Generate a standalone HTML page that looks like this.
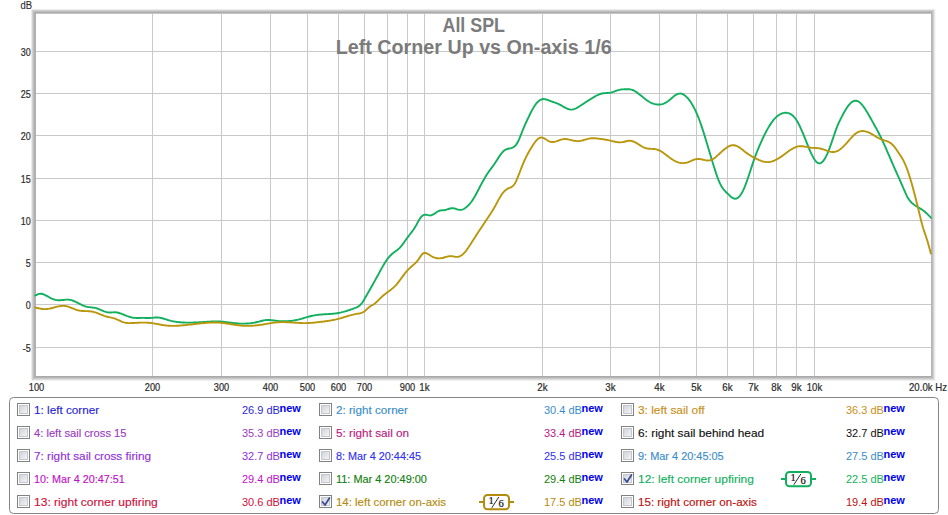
<!DOCTYPE html>
<html><head><meta charset="utf-8"><style>
html,body{margin:0;padding:0;background:#fff;width:948px;height:515px;overflow:hidden;position:relative;font-family:"Liberation Sans",sans-serif}
</style></head><body>
<svg width="948" height="515" viewBox="0 0 948 515" style="position:absolute;left:0;top:0">
<defs><linearGradient id="cbg" x1="0" y1="0" x2="1" y2="1"><stop offset="0" stop-color="#cdd1d8"/><stop offset="1" stop-color="#f6f6f6"/></linearGradient></defs>
<g shape-rendering="crispEdges"><rect x="31" y="9" width="905" height="372" fill="none"/><rect x="31" y="10" width="1" height="370" fill="#eaeaea"/><rect x="935" y="10" width="1" height="370" fill="#f8f8f8"/><rect x="32" y="9" width="903" height="1" fill="#ebebeb"/><rect x="32" y="380" width="903" height="1" fill="#f0f0f0"/><rect x="32" y="10" width="903" height="370" fill="none"/><rect x="32" y="10" width="1" height="370" fill="#d2d2d2"/><rect x="934" y="10" width="1" height="370" fill="#e8e8e8"/><rect x="33" y="10" width="901" height="1" fill="#d0d0d0"/><rect x="33" y="379" width="901" height="1" fill="#dcdcdc"/><rect x="33" y="11" width="901" height="368" fill="none"/><rect x="33" y="11" width="1" height="368" fill="#bebebe"/><rect x="933" y="11" width="1" height="368" fill="#d2d2d2"/><rect x="34" y="11" width="899" height="1" fill="#bcbcbc"/><rect x="34" y="378" width="899" height="1" fill="#c8c8c8"/><rect x="34" y="12" width="899" height="366" fill="none"/><rect x="34" y="12" width="1" height="366" fill="#b0b0b0"/><rect x="932" y="12" width="1" height="366" fill="#bcbcbc"/><rect x="35" y="12" width="897" height="1" fill="#adadad"/><rect x="35" y="377" width="897" height="1" fill="#b5b5b5"/><rect x="35" y="13" width="897" height="364" fill="none"/><rect x="35" y="13" width="1" height="364" fill="#b0b0b0"/><rect x="931" y="13" width="1" height="364" fill="#b5b5b5"/><rect x="36" y="13" width="895" height="1" fill="#c4c4c4"/><rect x="36" y="376" width="895" height="1" fill="#aaaaaa"/></g>
<g fill="#c9c9c9" shape-rendering="crispEdges"><rect x="152" y="14" width="1" height="362"/><rect x="221" y="14" width="1" height="362"/><rect x="270" y="14" width="1" height="362"/><rect x="307" y="14" width="1" height="362"/><rect x="338" y="14" width="1" height="362"/><rect x="364" y="14" width="1" height="362"/><rect x="387" y="14" width="1" height="362"/><rect x="407" y="14" width="1" height="362"/><rect x="424" y="14" width="1" height="362"/><rect x="542" y="14" width="1" height="362"/><rect x="610" y="14" width="1" height="362"/><rect x="659" y="14" width="1" height="362"/><rect x="696" y="14" width="1" height="362"/><rect x="727" y="14" width="1" height="362"/><rect x="753" y="14" width="1" height="362"/><rect x="776" y="14" width="1" height="362"/><rect x="796" y="14" width="1" height="362"/><rect x="814" y="14" width="1" height="362"/><rect x="36" y="51" width="895" height="1"/><rect x="36" y="93" width="895" height="1"/><rect x="36" y="135" width="895" height="1"/><rect x="36" y="178" width="895" height="1"/><rect x="36" y="220" width="895" height="1"/><rect x="36" y="262" width="895" height="1"/><rect x="36" y="304" width="895" height="1"/><rect x="36" y="347" width="895" height="1"/></g>
<g font-family="Liberation Sans" font-weight="bold" font-size="20" fill="#7b7b7b">
<text x="442.5" y="32.4" textLength="62.5" lengthAdjust="spacingAndGlyphs">All SPL</text>
<text x="335.8" y="54" textLength="275.8" lengthAdjust="spacingAndGlyphs">Left Corner Up vs On-axis 1/6</text>
</g>
<path d="M35.2,295.50 L36.2,295.01 L37.2,294.56 L38.2,294.17 L39.2,293.90 L40.2,293.77 L41.2,293.79 L42.2,293.95 L43.2,294.23 L44.2,294.60 L45.2,295.05 L46.2,295.56 L47.2,296.11 L48.2,296.68 L49.2,297.25 L50.2,297.80 L51.2,298.31 L52.2,298.75 L53.2,299.14 L54.2,299.47 L55.2,299.73 L56.2,299.94 L57.2,300.09 L58.2,300.19 L59.2,300.23 L60.2,300.22 L61.2,300.17 L62.2,300.07 L63.2,299.95 L64.2,299.82 L65.2,299.71 L66.2,299.63 L67.2,299.60 L68.2,299.63 L69.2,299.73 L70.2,299.89 L71.2,300.12 L72.2,300.41 L73.2,300.75 L74.2,301.13 L75.2,301.56 L76.2,302.03 L77.2,302.53 L78.2,303.04 L79.2,303.56 L80.2,304.08 L81.2,304.59 L82.2,305.07 L83.2,305.53 L84.2,305.94 L85.2,306.30 L86.2,306.60 L87.2,306.83 L88.2,307.01 L89.2,307.15 L90.2,307.26 L91.2,307.36 L92.2,307.46 L93.2,307.58 L94.2,307.73 L95.2,307.93 L96.2,308.19 L97.2,308.51 L98.2,308.87 L99.2,309.27 L100.2,309.69 L101.2,310.12 L102.2,310.55 L103.2,310.97 L104.2,311.35 L105.2,311.70 L106.2,312.00 L107.2,312.24 L108.2,312.40 L109.2,312.48 L110.2,312.49 L111.2,312.46 L112.2,312.41 L113.2,312.35 L114.2,312.31 L115.2,312.32 L116.2,312.38 L117.2,312.52 L118.2,312.74 L119.2,313.02 L120.2,313.35 L121.2,313.71 L122.2,314.10 L123.2,314.50 L124.2,314.90 L125.2,315.29 L126.2,315.68 L127.2,316.06 L128.2,316.41 L129.2,316.74 L130.2,317.04 L131.2,317.31 L132.2,317.53 L133.2,317.70 L134.2,317.82 L135.2,317.91 L136.2,317.96 L137.2,317.98 L138.2,317.98 L139.2,317.97 L140.2,317.95 L141.2,317.92 L142.2,317.90 L143.2,317.90 L144.2,317.90 L145.2,317.93 L146.2,317.96 L147.2,318.00 L148.2,318.02 L149.2,318.02 L150.2,317.99 L151.2,317.92 L152.2,317.83 L153.2,317.73 L154.2,317.63 L155.2,317.55 L156.2,317.49 L157.2,317.49 L158.2,317.54 L159.2,317.65 L160.2,317.81 L161.2,318.01 L162.2,318.26 L163.2,318.53 L164.2,318.82 L165.2,319.13 L166.2,319.45 L167.2,319.76 L168.2,320.07 L169.2,320.36 L170.2,320.63 L171.2,320.88 L172.2,321.10 L173.2,321.31 L174.2,321.51 L175.2,321.68 L176.2,321.84 L177.2,321.97 L178.2,322.10 L179.2,322.21 L180.2,322.30 L181.2,322.39 L182.2,322.46 L183.2,322.51 L184.2,322.56 L185.2,322.59 L186.2,322.62 L187.2,322.64 L188.2,322.64 L189.2,322.64 L190.2,322.64 L191.2,322.62 L192.2,322.60 L193.2,322.57 L194.2,322.53 L195.2,322.49 L196.2,322.45 L197.2,322.40 L198.2,322.34 L199.2,322.29 L200.2,322.23 L201.2,322.16 L202.2,322.10 L203.2,322.03 L204.2,321.96 L205.2,321.90 L206.2,321.83 L207.2,321.77 L208.2,321.71 L209.2,321.66 L210.2,321.61 L211.2,321.56 L212.2,321.52 L213.2,321.49 L214.2,321.47 L215.2,321.46 L216.2,321.45 L217.2,321.46 L218.2,321.48 L219.2,321.51 L220.2,321.56 L221.2,321.62 L222.2,321.69 L223.2,321.78 L224.2,321.88 L225.2,321.99 L226.2,322.10 L227.2,322.22 L228.2,322.35 L229.2,322.47 L230.2,322.60 L231.2,322.73 L232.2,322.86 L233.2,322.98 L234.2,323.10 L235.2,323.21 L236.2,323.31 L237.2,323.40 L238.2,323.47 L239.2,323.54 L240.2,323.58 L241.2,323.62 L242.2,323.64 L243.2,323.64 L244.2,323.63 L245.2,323.60 L246.2,323.56 L247.2,323.50 L248.2,323.43 L249.2,323.34 L250.2,323.23 L251.2,323.11 L252.2,322.98 L253.2,322.82 L254.2,322.65 L255.2,322.46 L256.2,322.26 L257.2,322.04 L258.2,321.80 L259.2,321.55 L260.2,321.28 L261.2,321.02 L262.2,320.77 L263.2,320.54 L264.2,320.33 L265.2,320.16 L266.2,320.03 L267.2,319.95 L268.2,319.93 L269.2,319.95 L270.2,320.00 L271.2,320.09 L272.2,320.20 L273.2,320.33 L274.2,320.47 L275.2,320.61 L276.2,320.75 L277.2,320.88 L278.2,320.99 L279.2,321.08 L280.2,321.16 L281.2,321.22 L282.2,321.26 L283.2,321.28 L284.2,321.29 L285.2,321.27 L286.2,321.25 L287.2,321.20 L288.2,321.14 L289.2,321.06 L290.2,320.96 L291.2,320.85 L292.2,320.72 L293.2,320.57 L294.2,320.41 L295.2,320.23 L296.2,320.03 L297.2,319.82 L298.2,319.59 L299.2,319.35 L300.2,319.09 L301.2,318.82 L302.2,318.54 L303.2,318.25 L304.2,317.96 L305.2,317.66 L306.2,317.37 L307.2,317.08 L308.2,316.79 L309.2,316.52 L310.2,316.26 L311.2,316.02 L312.2,315.79 L313.2,315.58 L314.2,315.40 L315.2,315.22 L316.2,315.07 L317.2,314.93 L318.2,314.81 L319.2,314.70 L320.2,314.60 L321.2,314.51 L322.2,314.43 L323.2,314.36 L324.2,314.30 L325.2,314.24 L326.2,314.18 L327.2,314.12 L328.2,314.07 L329.2,314.01 L330.2,313.94 L331.2,313.87 L332.2,313.79 L333.2,313.70 L334.2,313.60 L335.2,313.48 L336.2,313.35 L337.2,313.20 L338.2,313.03 L339.2,312.84 L340.2,312.63 L341.2,312.41 L342.2,312.16 L343.2,311.91 L344.2,311.63 L345.2,311.34 L346.2,311.05 L347.2,310.74 L348.2,310.41 L349.2,310.08 L350.2,309.75 L351.2,309.40 L352.2,309.05 L353.2,308.70 L354.2,308.34 L355.2,307.97 L356.2,307.57 L357.2,307.11 L358.2,306.56 L359.2,305.87 L360.2,305.03 L361.2,303.99 L362.2,302.73 L363.2,301.22 L364.2,299.52 L365.2,297.74 L366.2,295.97 L367.2,294.21 L368.2,292.46 L369.2,290.71 L370.2,288.96 L371.2,287.20 L372.2,285.44 L373.2,283.67 L374.2,281.88 L375.2,280.10 L376.2,278.30 L377.2,276.49 L378.2,274.67 L379.2,272.83 L380.2,270.99 L381.2,269.16 L382.2,267.36 L383.2,265.60 L384.2,263.91 L385.2,262.30 L386.2,260.78 L387.2,259.37 L388.2,258.05 L389.2,256.84 L390.2,255.73 L391.2,254.71 L392.2,253.80 L393.2,252.98 L394.2,252.24 L395.2,251.53 L396.2,250.82 L397.2,250.09 L398.2,249.29 L399.2,248.40 L400.2,247.39 L401.2,246.23 L402.2,244.96 L403.2,243.60 L404.2,242.19 L405.2,240.75 L406.2,239.32 L407.2,237.93 L408.2,236.58 L409.2,235.28 L410.2,233.98 L411.2,232.68 L412.2,231.34 L413.2,229.94 L414.2,228.46 L415.2,226.88 L416.2,225.18 L417.2,223.35 L418.2,221.48 L419.2,219.71 L420.2,218.16 L421.2,216.90 L422.2,215.93 L423.2,215.24 L424.2,214.83 L425.2,214.68 L426.2,214.75 L427.2,214.94 L428.2,215.17 L429.2,215.36 L430.2,215.43 L431.2,215.31 L432.2,214.97 L433.2,214.47 L434.2,213.85 L435.2,213.16 L436.2,212.46 L437.2,211.79 L438.2,211.21 L439.2,210.77 L440.2,210.50 L441.2,210.37 L442.2,210.32 L443.2,210.28 L444.2,210.19 L445.2,209.99 L446.2,209.72 L447.2,209.40 L448.2,209.06 L449.2,208.74 L450.2,208.47 L451.2,208.28 L452.2,208.20 L453.2,208.26 L454.2,208.44 L455.2,208.69 L456.2,208.99 L457.2,209.30 L458.2,209.57 L459.2,209.78 L460.2,209.89 L461.2,209.86 L462.2,209.66 L463.2,209.27 L464.2,208.74 L465.2,208.08 L466.2,207.30 L467.2,206.43 L468.2,205.47 L469.2,204.42 L470.2,203.26 L471.2,201.99 L472.2,200.60 L473.2,199.10 L474.2,197.48 L475.2,195.75 L476.2,193.94 L477.2,192.06 L478.2,190.15 L479.2,188.22 L480.2,186.30 L481.2,184.40 L482.2,182.53 L483.2,180.71 L484.2,178.93 L485.2,177.22 L486.2,175.57 L487.2,174.00 L488.2,172.51 L489.2,171.10 L490.2,169.75 L491.2,168.43 L492.2,167.10 L493.2,165.73 L494.2,164.31 L495.2,162.81 L496.2,161.26 L497.2,159.68 L498.2,158.12 L499.2,156.59 L500.2,155.12 L501.2,153.76 L502.2,152.52 L503.2,151.43 L504.2,150.53 L505.2,149.84 L506.2,149.34 L507.2,148.98 L508.2,148.72 L509.2,148.51 L510.2,148.31 L511.2,148.07 L512.2,147.74 L513.2,147.28 L514.2,146.64 L515.2,145.76 L516.2,144.60 L517.2,143.10 L518.2,141.23 L519.2,139.02 L520.2,136.58 L521.2,134.04 L522.2,131.50 L523.2,129.04 L524.2,126.67 L525.2,124.37 L526.2,122.14 L527.2,119.98 L528.2,117.86 L529.2,115.79 L530.2,113.76 L531.2,111.79 L532.2,109.91 L533.2,108.13 L534.2,106.47 L535.2,104.96 L536.2,103.61 L537.2,102.45 L538.2,101.46 L539.2,100.64 L540.2,100.00 L541.2,99.52 L542.2,99.22 L543.2,99.07 L544.2,99.08 L545.2,99.22 L546.2,99.46 L547.2,99.78 L548.2,100.14 L549.2,100.53 L550.2,100.91 L551.2,101.28 L552.2,101.63 L553.2,101.98 L554.2,102.33 L555.2,102.68 L556.2,103.06 L557.2,103.46 L558.2,103.88 L559.2,104.35 L560.2,104.86 L561.2,105.41 L562.2,105.98 L563.2,106.56 L564.2,107.13 L565.2,107.67 L566.2,108.18 L567.2,108.63 L568.2,109.02 L569.2,109.32 L570.2,109.52 L571.2,109.60 L572.2,109.56 L573.2,109.39 L574.2,109.11 L575.2,108.72 L576.2,108.25 L577.2,107.71 L578.2,107.12 L579.2,106.49 L580.2,105.83 L581.2,105.17 L582.2,104.50 L583.2,103.85 L584.2,103.20 L585.2,102.56 L586.2,101.92 L587.2,101.28 L588.2,100.64 L589.2,100.01 L590.2,99.38 L591.2,98.75 L592.2,98.12 L593.2,97.50 L594.2,96.89 L595.2,96.31 L596.2,95.76 L597.2,95.25 L598.2,94.78 L599.2,94.36 L600.2,94.00 L601.2,93.70 L602.2,93.47 L603.2,93.31 L604.2,93.20 L605.2,93.12 L606.2,93.05 L607.2,92.99 L608.2,92.92 L609.2,92.82 L610.2,92.68 L611.2,92.48 L612.2,92.21 L613.2,91.88 L614.2,91.52 L615.2,91.15 L616.2,90.77 L617.2,90.41 L618.2,90.09 L619.2,89.82 L620.2,89.62 L621.2,89.48 L622.2,89.40 L623.2,89.35 L624.2,89.32 L625.2,89.31 L626.2,89.30 L627.2,89.28 L628.2,89.28 L629.2,89.32 L630.2,89.42 L631.2,89.59 L632.2,89.86 L633.2,90.25 L634.2,90.73 L635.2,91.30 L636.2,91.94 L637.2,92.64 L638.2,93.38 L639.2,94.16 L640.2,94.95 L641.2,95.76 L642.2,96.57 L643.2,97.38 L644.2,98.18 L645.2,98.96 L646.2,99.71 L647.2,100.42 L648.2,101.10 L649.2,101.72 L650.2,102.29 L651.2,102.80 L652.2,103.24 L653.2,103.63 L654.2,103.94 L655.2,104.20 L656.2,104.39 L657.2,104.51 L658.2,104.57 L659.2,104.56 L660.2,104.48 L661.2,104.33 L662.2,104.10 L663.2,103.80 L664.2,103.42 L665.2,102.96 L666.2,102.41 L667.2,101.76 L668.2,101.04 L669.2,100.24 L670.2,99.41 L671.2,98.55 L672.2,97.69 L673.2,96.86 L674.2,96.07 L675.2,95.35 L676.2,94.72 L677.2,94.21 L678.2,93.82 L679.2,93.60 L680.2,93.55 L681.2,93.67 L682.2,93.96 L683.2,94.41 L684.2,95.00 L685.2,95.73 L686.2,96.60 L687.2,97.59 L688.2,98.72 L689.2,99.96 L690.2,101.34 L691.2,102.84 L692.2,104.47 L693.2,106.22 L694.2,108.10 L695.2,110.11 L696.2,112.25 L697.2,114.53 L698.2,116.95 L699.2,119.53 L700.2,122.26 L701.2,125.13 L702.2,128.12 L703.2,131.21 L704.2,134.39 L705.2,137.63 L706.2,140.93 L707.2,144.26 L708.2,147.61 L709.2,150.97 L710.2,154.33 L711.2,157.68 L712.2,161.00 L713.2,164.28 L714.2,167.51 L715.2,170.66 L716.2,173.70 L717.2,176.59 L718.2,179.28 L719.2,181.73 L720.2,183.91 L721.2,185.80 L722.2,187.43 L723.2,188.85 L724.2,190.09 L725.2,191.20 L726.2,192.23 L727.2,193.21 L728.2,194.19 L729.2,195.15 L730.2,196.07 L731.2,196.91 L732.2,197.63 L733.2,198.19 L734.2,198.56 L735.2,198.70 L736.2,198.58 L737.2,198.19 L738.2,197.53 L739.2,196.61 L740.2,195.43 L741.2,193.99 L742.2,192.30 L743.2,190.35 L744.2,188.14 L745.2,185.69 L746.2,183.04 L747.2,180.22 L748.2,177.28 L749.2,174.25 L750.2,171.19 L751.2,168.12 L752.2,165.08 L753.2,162.13 L754.2,159.27 L755.2,156.52 L756.2,153.85 L757.2,151.28 L758.2,148.78 L759.2,146.37 L760.2,144.04 L761.2,141.78 L762.2,139.59 L763.2,137.47 L764.2,135.41 L765.2,133.42 L766.2,131.50 L767.2,129.65 L768.2,127.89 L769.2,126.21 L770.2,124.62 L771.2,123.12 L772.2,121.72 L773.2,120.41 L774.2,119.21 L775.2,118.12 L776.2,117.14 L777.2,116.26 L778.2,115.49 L779.2,114.81 L780.2,114.24 L781.2,113.76 L782.2,113.39 L783.2,113.10 L784.2,112.91 L785.2,112.82 L786.2,112.81 L787.2,112.89 L788.2,113.08 L789.2,113.39 L790.2,113.83 L791.2,114.40 L792.2,115.12 L793.2,115.99 L794.2,117.04 L795.2,118.27 L796.2,119.69 L797.2,121.30 L798.2,123.08 L799.2,125.02 L800.2,127.09 L801.2,129.28 L802.2,131.57 L803.2,133.94 L804.2,136.37 L805.2,138.85 L806.2,141.35 L807.2,143.86 L808.2,146.34 L809.2,148.77 L810.2,151.11 L811.2,153.33 L812.2,155.41 L813.2,157.32 L814.2,159.02 L815.2,160.49 L816.2,161.69 L817.2,162.60 L818.2,163.19 L819.2,163.43 L820.2,163.31 L821.2,162.86 L822.2,162.09 L823.2,161.02 L824.2,159.67 L825.2,158.04 L826.2,156.16 L827.2,154.04 L828.2,151.69 L829.2,149.15 L830.2,146.43 L831.2,143.59 L832.2,140.67 L833.2,137.71 L834.2,134.77 L835.2,131.88 L836.2,129.10 L837.2,126.47 L838.2,124.03 L839.2,121.83 L840.2,119.80 L841.2,117.82 L842.2,115.88 L843.2,113.99 L844.2,112.18 L845.2,110.45 L846.2,108.83 L847.2,107.31 L848.2,105.91 L849.2,104.65 L850.2,103.55 L851.2,102.60 L852.2,101.83 L853.2,101.24 L854.2,100.86 L855.2,100.68 L856.2,100.73 L857.2,100.98 L858.2,101.43 L859.2,102.07 L860.2,102.87 L861.2,103.84 L862.2,104.97 L863.2,106.22 L864.2,107.60 L865.2,109.09 L866.2,110.66 L867.2,112.31 L868.2,114.01 L869.2,115.76 L870.2,117.54 L871.2,119.32 L872.2,121.11 L873.2,122.89 L874.2,124.68 L875.2,126.49 L876.2,128.31 L877.2,130.17 L878.2,132.06 L879.2,134.00 L880.2,135.98 L881.2,138.02 L882.2,140.12 L883.2,142.28 L884.2,144.47 L885.2,146.70 L886.2,148.97 L887.2,151.26 L888.2,153.56 L889.2,155.87 L890.2,158.19 L891.2,160.50 L892.2,162.80 L893.2,165.09 L894.2,167.37 L895.2,169.64 L896.2,171.90 L897.2,174.14 L898.2,176.38 L899.2,178.61 L900.2,180.85 L901.2,183.10 L902.2,185.40 L903.2,187.75 L904.2,190.14 L905.2,192.48 L906.2,194.68 L907.2,196.67 L908.2,198.38 L909.2,199.86 L910.2,201.13 L911.2,202.23 L912.2,203.19 L913.2,204.04 L914.2,204.80 L915.2,205.49 L916.2,206.13 L917.2,206.73 L918.2,207.32 L919.2,207.91 L920.2,208.51 L921.2,209.14 L922.2,209.79 L923.2,210.50 L924.2,211.25 L925.2,212.07 L926.2,212.96 L927.2,213.90 L928.2,214.89 L929.2,215.91 L930.2,216.96 L931.0,217.80" fill="none" stroke="#12b05e" stroke-width="1.9" stroke-linejoin="round" stroke-linecap="round"/>
<path d="M35.2,307.50 L36.2,307.75 L37.2,307.99 L38.2,308.22 L39.2,308.44 L40.2,308.64 L41.2,308.80 L42.2,308.94 L43.2,309.04 L44.2,309.10 L45.2,309.11 L46.2,309.07 L47.2,308.97 L48.2,308.84 L49.2,308.66 L50.2,308.45 L51.2,308.22 L52.2,307.97 L53.2,307.71 L54.2,307.44 L55.2,307.17 L56.2,306.91 L57.2,306.66 L58.2,306.44 L59.2,306.24 L60.2,306.08 L61.2,305.95 L62.2,305.87 L63.2,305.85 L64.2,305.88 L65.2,305.99 L66.2,306.16 L67.2,306.39 L68.2,306.68 L69.2,307.02 L70.2,307.39 L71.2,307.78 L72.2,308.18 L73.2,308.59 L74.2,308.99 L75.2,309.38 L76.2,309.73 L77.2,310.05 L78.2,310.32 L79.2,310.54 L80.2,310.71 L81.2,310.84 L82.2,310.93 L83.2,311.00 L84.2,311.04 L85.2,311.08 L86.2,311.11 L87.2,311.14 L88.2,311.18 L89.2,311.24 L90.2,311.33 L91.2,311.44 L92.2,311.60 L93.2,311.80 L94.2,312.05 L95.2,312.35 L96.2,312.69 L97.2,313.06 L98.2,313.45 L99.2,313.86 L100.2,314.27 L101.2,314.68 L102.2,315.09 L103.2,315.48 L104.2,315.85 L105.2,316.19 L106.2,316.49 L107.2,316.74 L108.2,316.97 L109.2,317.19 L110.2,317.39 L111.2,317.60 L112.2,317.82 L113.2,318.07 L114.2,318.36 L115.2,318.70 L116.2,319.09 L117.2,319.53 L118.2,320.00 L119.2,320.47 L120.2,320.94 L121.2,321.39 L122.2,321.81 L123.2,322.17 L124.2,322.46 L125.2,322.69 L126.2,322.86 L127.2,322.97 L128.2,323.05 L129.2,323.08 L130.2,323.09 L131.2,323.07 L132.2,323.03 L133.2,322.99 L134.2,322.94 L135.2,322.89 L136.2,322.84 L137.2,322.79 L138.2,322.75 L139.2,322.70 L140.2,322.67 L141.2,322.63 L142.2,322.61 L143.2,322.60 L144.2,322.60 L145.2,322.61 L146.2,322.64 L147.2,322.68 L148.2,322.74 L149.2,322.82 L150.2,322.92 L151.2,323.04 L152.2,323.18 L153.2,323.33 L154.2,323.49 L155.2,323.67 L156.2,323.85 L157.2,324.04 L158.2,324.23 L159.2,324.42 L160.2,324.60 L161.2,324.78 L162.2,324.96 L163.2,325.12 L164.2,325.27 L165.2,325.40 L166.2,325.51 L167.2,325.61 L168.2,325.69 L169.2,325.75 L170.2,325.80 L171.2,325.83 L172.2,325.85 L173.2,325.86 L174.2,325.85 L175.2,325.83 L176.2,325.80 L177.2,325.75 L178.2,325.70 L179.2,325.64 L180.2,325.57 L181.2,325.49 L182.2,325.41 L183.2,325.32 L184.2,325.22 L185.2,325.12 L186.2,325.02 L187.2,324.91 L188.2,324.79 L189.2,324.68 L190.2,324.56 L191.2,324.44 L192.2,324.33 L193.2,324.21 L194.2,324.09 L195.2,323.97 L196.2,323.85 L197.2,323.73 L198.2,323.62 L199.2,323.51 L200.2,323.40 L201.2,323.30 L202.2,323.20 L203.2,323.10 L204.2,323.01 L205.2,322.93 L206.2,322.85 L207.2,322.78 L208.2,322.71 L209.2,322.66 L210.2,322.61 L211.2,322.58 L212.2,322.55 L213.2,322.53 L214.2,322.52 L215.2,322.53 L216.2,322.55 L217.2,322.57 L218.2,322.62 L219.2,322.67 L220.2,322.74 L221.2,322.83 L222.2,322.93 L223.2,323.04 L224.2,323.16 L225.2,323.30 L226.2,323.44 L227.2,323.59 L228.2,323.74 L229.2,323.90 L230.2,324.06 L231.2,324.23 L232.2,324.39 L233.2,324.55 L234.2,324.71 L235.2,324.87 L236.2,325.01 L237.2,325.15 L238.2,325.28 L239.2,325.41 L240.2,325.51 L241.2,325.61 L242.2,325.69 L243.2,325.75 L244.2,325.81 L245.2,325.84 L246.2,325.87 L247.2,325.88 L248.2,325.88 L249.2,325.86 L250.2,325.83 L251.2,325.79 L252.2,325.74 L253.2,325.67 L254.2,325.60 L255.2,325.51 L256.2,325.41 L257.2,325.30 L258.2,325.19 L259.2,325.06 L260.2,324.92 L261.2,324.77 L262.2,324.61 L263.2,324.45 L264.2,324.28 L265.2,324.10 L266.2,323.93 L267.2,323.75 L268.2,323.57 L269.2,323.40 L270.2,323.23 L271.2,323.07 L272.2,322.91 L273.2,322.77 L274.2,322.64 L275.2,322.51 L276.2,322.41 L277.2,322.32 L278.2,322.24 L279.2,322.19 L280.2,322.15 L281.2,322.12 L282.2,322.11 L283.2,322.11 L284.2,322.13 L285.2,322.15 L286.2,322.18 L287.2,322.23 L288.2,322.27 L289.2,322.33 L290.2,322.39 L291.2,322.45 L292.2,322.52 L293.2,322.58 L294.2,322.65 L295.2,322.72 L296.2,322.78 L297.2,322.85 L298.2,322.90 L299.2,322.96 L300.2,323.00 L301.2,323.04 L302.2,323.07 L303.2,323.09 L304.2,323.10 L305.2,323.10 L306.2,323.08 L307.2,323.06 L308.2,323.02 L309.2,322.97 L310.2,322.91 L311.2,322.84 L312.2,322.76 L313.2,322.68 L314.2,322.59 L315.2,322.49 L316.2,322.39 L317.2,322.28 L318.2,322.17 L319.2,322.05 L320.2,321.93 L321.2,321.81 L322.2,321.69 L323.2,321.57 L324.2,321.44 L325.2,321.31 L326.2,321.17 L327.2,321.03 L328.2,320.88 L329.2,320.73 L330.2,320.57 L331.2,320.40 L332.2,320.22 L333.2,320.03 L334.2,319.83 L335.2,319.61 L336.2,319.39 L337.2,319.15 L338.2,318.90 L339.2,318.63 L340.2,318.35 L341.2,318.06 L342.2,317.77 L343.2,317.47 L344.2,317.16 L345.2,316.85 L346.2,316.55 L347.2,316.24 L348.2,315.94 L349.2,315.65 L350.2,315.36 L351.2,315.09 L352.2,314.82 L353.2,314.58 L354.2,314.34 L355.2,314.13 L356.2,313.94 L357.2,313.77 L358.2,313.61 L359.2,313.45 L360.2,313.25 L361.2,312.98 L362.2,312.62 L363.2,312.13 L364.2,311.49 L365.2,310.70 L366.2,309.82 L367.2,308.88 L368.2,307.96 L369.2,307.10 L370.2,306.36 L371.2,305.76 L372.2,305.22 L373.2,304.65 L374.2,303.98 L375.2,303.18 L376.2,302.28 L377.2,301.31 L378.2,300.31 L379.2,299.30 L380.2,298.30 L381.2,297.36 L382.2,296.45 L383.2,295.58 L384.2,294.74 L385.2,293.94 L386.2,293.16 L387.2,292.40 L388.2,291.66 L389.2,290.92 L390.2,290.18 L391.2,289.41 L392.2,288.60 L393.2,287.75 L394.2,286.84 L395.2,285.86 L396.2,284.79 L397.2,283.63 L398.2,282.39 L399.2,281.09 L400.2,279.75 L401.2,278.39 L402.2,277.02 L403.2,275.66 L404.2,274.33 L405.2,273.04 L406.2,271.82 L407.2,270.68 L408.2,269.63 L409.2,268.65 L410.2,267.72 L411.2,266.83 L412.2,265.95 L413.2,265.06 L414.2,264.16 L415.2,263.21 L416.2,262.19 L417.2,261.07 L418.2,259.83 L419.2,258.41 L420.2,256.89 L421.2,255.42 L422.2,254.16 L423.2,253.30 L424.2,252.94 L425.2,252.96 L426.2,253.22 L427.2,253.63 L428.2,254.14 L429.2,254.73 L430.2,255.35 L431.2,255.96 L432.2,256.54 L433.2,257.04 L434.2,257.46 L435.2,257.80 L436.2,258.05 L437.2,258.23 L438.2,258.32 L439.2,258.35 L440.2,258.30 L441.2,258.18 L442.2,258.00 L443.2,257.76 L444.2,257.47 L445.2,257.16 L446.2,256.86 L447.2,256.58 L448.2,256.35 L449.2,256.18 L450.2,256.10 L451.2,256.13 L452.2,256.25 L453.2,256.42 L454.2,256.60 L455.2,256.77 L456.2,256.87 L457.2,256.88 L458.2,256.76 L459.2,256.49 L460.2,256.07 L461.2,255.49 L462.2,254.77 L463.2,253.91 L464.2,252.92 L465.2,251.79 L466.2,250.54 L467.2,249.19 L468.2,247.77 L469.2,246.27 L470.2,244.73 L471.2,243.16 L472.2,241.58 L473.2,240.00 L474.2,238.44 L475.2,236.90 L476.2,235.37 L477.2,233.85 L478.2,232.34 L479.2,230.83 L480.2,229.32 L481.2,227.81 L482.2,226.30 L483.2,224.80 L484.2,223.30 L485.2,221.80 L486.2,220.30 L487.2,218.80 L488.2,217.30 L489.2,215.79 L490.2,214.25 L491.2,212.68 L492.2,211.07 L493.2,209.42 L494.2,207.71 L495.2,205.94 L496.2,204.11 L497.2,202.25 L498.2,200.41 L499.2,198.61 L500.2,196.88 L501.2,195.28 L502.2,193.82 L503.2,192.54 L504.2,191.43 L505.2,190.47 L506.2,189.65 L507.2,188.96 L508.2,188.38 L509.2,187.91 L510.2,187.51 L511.2,187.08 L512.2,186.50 L513.2,185.68 L514.2,184.50 L515.2,182.89 L516.2,180.91 L517.2,178.65 L518.2,176.19 L519.2,173.62 L520.2,171.03 L521.2,168.46 L522.2,165.93 L523.2,163.48 L524.2,161.13 L525.2,158.90 L526.2,156.81 L527.2,154.84 L528.2,152.97 L529.2,151.20 L530.2,149.51 L531.2,147.88 L532.2,146.31 L533.2,144.78 L534.2,143.31 L535.2,141.94 L536.2,140.70 L537.2,139.61 L538.2,138.71 L539.2,138.04 L540.2,137.63 L541.2,137.49 L542.2,137.60 L543.2,137.91 L544.2,138.37 L545.2,138.94 L546.2,139.56 L547.2,140.20 L548.2,140.80 L549.2,141.32 L550.2,141.70 L551.2,141.93 L552.2,142.01 L553.2,141.98 L554.2,141.84 L555.2,141.62 L556.2,141.33 L557.2,141.01 L558.2,140.65 L559.2,140.29 L560.2,139.94 L561.2,139.62 L562.2,139.35 L563.2,139.16 L564.2,139.05 L565.2,139.02 L566.2,139.08 L567.2,139.20 L568.2,139.37 L569.2,139.58 L570.2,139.81 L571.2,140.06 L572.2,140.30 L573.2,140.54 L574.2,140.75 L575.2,140.92 L576.2,141.04 L577.2,141.10 L578.2,141.09 L579.2,141.01 L580.2,140.87 L581.2,140.69 L582.2,140.47 L583.2,140.22 L584.2,139.95 L585.2,139.66 L586.2,139.38 L587.2,139.11 L588.2,138.85 L589.2,138.63 L590.2,138.43 L591.2,138.29 L592.2,138.19 L593.2,138.16 L594.2,138.18 L595.2,138.25 L596.2,138.34 L597.2,138.47 L598.2,138.60 L599.2,138.74 L600.2,138.88 L601.2,139.02 L602.2,139.17 L603.2,139.31 L604.2,139.46 L605.2,139.62 L606.2,139.79 L607.2,139.97 L608.2,140.16 L609.2,140.37 L610.2,140.59 L611.2,140.83 L612.2,141.07 L613.2,141.31 L614.2,141.54 L615.2,141.76 L616.2,141.95 L617.2,142.11 L618.2,142.23 L619.2,142.31 L620.2,142.33 L621.2,142.28 L622.2,142.17 L623.2,141.99 L624.2,141.77 L625.2,141.52 L626.2,141.27 L627.2,141.05 L628.2,140.88 L629.2,140.79 L630.2,140.80 L631.2,140.93 L632.2,141.16 L633.2,141.49 L634.2,141.91 L635.2,142.39 L636.2,142.93 L637.2,143.51 L638.2,144.12 L639.2,144.73 L640.2,145.35 L641.2,145.95 L642.2,146.53 L643.2,147.06 L644.2,147.53 L645.2,147.94 L646.2,148.26 L647.2,148.49 L648.2,148.64 L649.2,148.74 L650.2,148.80 L651.2,148.85 L652.2,148.89 L653.2,148.94 L654.2,149.04 L655.2,149.18 L656.2,149.39 L657.2,149.66 L658.2,150.00 L659.2,150.42 L660.2,150.90 L661.2,151.47 L662.2,152.09 L663.2,152.77 L664.2,153.48 L665.2,154.23 L666.2,154.99 L667.2,155.76 L668.2,156.52 L669.2,157.27 L670.2,157.99 L671.2,158.68 L672.2,159.34 L673.2,159.96 L674.2,160.54 L675.2,161.07 L676.2,161.55 L677.2,161.97 L678.2,162.34 L679.2,162.64 L680.2,162.87 L681.2,163.03 L682.2,163.11 L683.2,163.12 L684.2,163.06 L685.2,162.92 L686.2,162.72 L687.2,162.46 L688.2,162.13 L689.2,161.74 L690.2,161.32 L691.2,160.87 L692.2,160.43 L693.2,160.01 L694.2,159.63 L695.2,159.32 L696.2,159.08 L697.2,158.95 L698.2,158.91 L699.2,158.97 L700.2,159.09 L701.2,159.26 L702.2,159.47 L703.2,159.70 L704.2,159.93 L705.2,160.14 L706.2,160.32 L707.2,160.44 L708.2,160.48 L709.2,160.42 L710.2,160.23 L711.2,159.90 L712.2,159.44 L713.2,158.87 L714.2,158.20 L715.2,157.45 L716.2,156.64 L717.2,155.77 L718.2,154.87 L719.2,153.95 L720.2,153.01 L721.2,152.09 L722.2,151.18 L723.2,150.30 L724.2,149.45 L725.2,148.65 L726.2,147.91 L727.2,147.24 L728.2,146.64 L729.2,146.13 L730.2,145.72 L731.2,145.41 L732.2,145.22 L733.2,145.16 L734.2,145.24 L735.2,145.45 L736.2,145.79 L737.2,146.24 L738.2,146.78 L739.2,147.40 L740.2,148.08 L741.2,148.82 L742.2,149.58 L743.2,150.36 L744.2,151.15 L745.2,151.92 L746.2,152.67 L747.2,153.39 L748.2,154.08 L749.2,154.75 L750.2,155.39 L751.2,156.00 L752.2,156.59 L753.2,157.15 L754.2,157.69 L755.2,158.21 L756.2,158.70 L757.2,159.18 L758.2,159.63 L759.2,160.07 L760.2,160.47 L761.2,160.85 L762.2,161.18 L763.2,161.47 L764.2,161.72 L765.2,161.91 L766.2,162.04 L767.2,162.10 L768.2,162.09 L769.2,162.01 L770.2,161.86 L771.2,161.64 L772.2,161.36 L773.2,161.02 L774.2,160.62 L775.2,160.17 L776.2,159.67 L777.2,159.13 L778.2,158.55 L779.2,157.93 L780.2,157.27 L781.2,156.59 L782.2,155.88 L783.2,155.15 L784.2,154.41 L785.2,153.66 L786.2,152.92 L787.2,152.18 L788.2,151.46 L789.2,150.75 L790.2,150.08 L791.2,149.44 L792.2,148.83 L793.2,148.28 L794.2,147.77 L795.2,147.33 L796.2,146.95 L797.2,146.65 L798.2,146.42 L799.2,146.27 L800.2,146.21 L801.2,146.21 L802.2,146.26 L803.2,146.37 L804.2,146.51 L805.2,146.68 L806.2,146.87 L807.2,147.06 L808.2,147.26 L809.2,147.44 L810.2,147.60 L811.2,147.74 L812.2,147.83 L813.2,147.91 L814.2,147.96 L815.2,148.01 L816.2,148.07 L817.2,148.14 L818.2,148.23 L819.2,148.36 L820.2,148.53 L821.2,148.75 L822.2,149.03 L823.2,149.35 L824.2,149.70 L825.2,150.07 L826.2,150.44 L827.2,150.81 L828.2,151.15 L829.2,151.45 L830.2,151.70 L831.2,151.89 L832.2,152.00 L833.2,152.02 L834.2,151.94 L835.2,151.74 L836.2,151.45 L837.2,151.04 L838.2,150.54 L839.2,149.95 L840.2,149.25 L841.2,148.47 L842.2,147.61 L843.2,146.68 L844.2,145.69 L845.2,144.64 L846.2,143.56 L847.2,142.44 L848.2,141.30 L849.2,140.15 L850.2,139.00 L851.2,137.87 L852.2,136.79 L853.2,135.76 L854.2,134.80 L855.2,133.93 L856.2,133.17 L857.2,132.53 L858.2,132.01 L859.2,131.61 L860.2,131.32 L861.2,131.14 L862.2,131.05 L863.2,131.05 L864.2,131.15 L865.2,131.32 L866.2,131.57 L867.2,131.89 L868.2,132.28 L869.2,132.72 L870.2,133.21 L871.2,133.74 L872.2,134.32 L873.2,134.92 L874.2,135.53 L875.2,136.16 L876.2,136.77 L877.2,137.37 L878.2,137.94 L879.2,138.47 L880.2,138.94 L881.2,139.36 L882.2,139.71 L883.2,140.03 L884.2,140.32 L885.2,140.62 L886.2,140.93 L887.2,141.30 L888.2,141.72 L889.2,142.23 L890.2,142.84 L891.2,143.58 L892.2,144.46 L893.2,145.49 L894.2,146.65 L895.2,147.92 L896.2,149.27 L897.2,150.70 L898.2,152.17 L899.2,153.68 L900.2,155.20 L901.2,156.74 L902.2,158.36 L903.2,160.13 L904.2,162.11 L905.2,164.32 L906.2,166.75 L907.2,169.39 L908.2,172.23 L909.2,175.25 L910.2,178.45 L911.2,181.82 L912.2,185.32 L913.2,188.96 L914.2,192.70 L915.2,196.53 L916.2,200.46 L917.2,204.46 L918.2,208.56 L919.2,212.73 L920.2,216.90 L921.2,220.95 L922.2,224.77 L923.2,228.24 L924.2,231.37 L925.2,234.31 L926.2,237.24 L927.2,240.32 L928.2,243.67 L929.2,247.25 L930.2,250.96 L930.9,253.60" fill="none" stroke="#b9960c" stroke-width="1.9" stroke-linejoin="round" stroke-linecap="round"/>
<g font-family="Liberation Sans" font-size="10.5" fill="#2a2a2a" stroke="#2a2a2a" stroke-width="0.2">
<text x="20.6" y="8.6" font-size="10" stroke-width="0.1" textLength="11.6" lengthAdjust="spacingAndGlyphs">dB</text>
<text x="30.7" y="55.5" text-anchor="end" textLength="10.0" lengthAdjust="spacingAndGlyphs">30</text><text x="30.7" y="97.5" text-anchor="end" textLength="10.0" lengthAdjust="spacingAndGlyphs">25</text><text x="30.7" y="139.5" text-anchor="end" textLength="10.0" lengthAdjust="spacingAndGlyphs">20</text><text x="30.7" y="182.5" text-anchor="end" textLength="10.0" lengthAdjust="spacingAndGlyphs">15</text><text x="30.7" y="224.5" text-anchor="end" textLength="10.0" lengthAdjust="spacingAndGlyphs">10</text><text x="30.7" y="266.5" text-anchor="end" textLength="5.0" lengthAdjust="spacingAndGlyphs">5</text><text x="30.7" y="308.5" text-anchor="end" textLength="5.0" lengthAdjust="spacingAndGlyphs">0</text><text x="30.7" y="351.5" text-anchor="end" textLength="8.0" lengthAdjust="spacingAndGlyphs">-5</text>
<text x="36.5" y="391" text-anchor="middle" textLength="15.4" lengthAdjust="spacingAndGlyphs">100</text><text x="152.5" y="391" text-anchor="middle" textLength="15.4" lengthAdjust="spacingAndGlyphs">200</text><text x="221.5" y="391" text-anchor="middle" textLength="15.4" lengthAdjust="spacingAndGlyphs">300</text><text x="270.5" y="391" text-anchor="middle" textLength="15.4" lengthAdjust="spacingAndGlyphs">400</text><text x="307.5" y="391" text-anchor="middle" textLength="15.4" lengthAdjust="spacingAndGlyphs">500</text><text x="338.5" y="391" text-anchor="middle" textLength="15.4" lengthAdjust="spacingAndGlyphs">600</text><text x="364.5" y="391" text-anchor="middle" textLength="15.4" lengthAdjust="spacingAndGlyphs">700</text><text x="407.5" y="391" text-anchor="middle" textLength="15.4" lengthAdjust="spacingAndGlyphs">900</text><text x="424.5" y="391" text-anchor="middle" textLength="10.3" lengthAdjust="spacingAndGlyphs">1k</text><text x="542.5" y="391" text-anchor="middle" textLength="10.3" lengthAdjust="spacingAndGlyphs">2k</text><text x="610.5" y="391" text-anchor="middle" textLength="10.3" lengthAdjust="spacingAndGlyphs">3k</text><text x="659.5" y="391" text-anchor="middle" textLength="10.3" lengthAdjust="spacingAndGlyphs">4k</text><text x="696.5" y="391" text-anchor="middle" textLength="10.3" lengthAdjust="spacingAndGlyphs">5k</text><text x="727.5" y="391" text-anchor="middle" textLength="10.3" lengthAdjust="spacingAndGlyphs">6k</text><text x="753.5" y="391" text-anchor="middle" textLength="10.3" lengthAdjust="spacingAndGlyphs">7k</text><text x="776.5" y="391" text-anchor="middle" textLength="10.3" lengthAdjust="spacingAndGlyphs">8k</text><text x="796.5" y="391" text-anchor="middle" textLength="10.3" lengthAdjust="spacingAndGlyphs">9k</text><text x="814.5" y="391" text-anchor="middle" textLength="15.4" lengthAdjust="spacingAndGlyphs">10k</text><text x="909" y="391" textLength="38" lengthAdjust="spacingAndGlyphs">20.0k Hz</text>
</g>
<rect x="9.5" y="397.5" width="929" height="116" rx="4" fill="none" stroke="#858585"/>
<g font-family="Liberation Sans"><rect x="17.5" y="403.5" width="12" height="12" fill="#fff" stroke="#828282"/><rect x="19.5" y="405.5" width="8" height="8" fill="url(#cbg)" stroke="#c4c8ce"/><text x="34" y="413.9" fill="#2a1fd9" font-size="11.6" textLength="65.2" lengthAdjust="spacingAndGlyphs" stroke="#2a1fd9" stroke-width="0.15">1: left corner</text><text x="242" y="413.8" fill="#2a1fd9" font-size="11">26.9 dB</text><text x="279.5" y="411.8" fill="#0000f0" font-size="11" font-weight="bold">new</text><rect x="319.5" y="403.5" width="12" height="12" fill="#fff" stroke="#828282"/><rect x="321.5" y="405.5" width="8" height="8" fill="url(#cbg)" stroke="#c4c8ce"/><text x="336" y="413.9" fill="#3a8dc8" font-size="11.6" textLength="72" lengthAdjust="spacingAndGlyphs" stroke="#3a8dc8" stroke-width="0.15">2: right corner</text><text x="544" y="413.8" fill="#3a8dc8" font-size="11">30.4 dB</text><text x="581.5" y="411.8" fill="#0000f0" font-size="11" font-weight="bold">new</text><rect x="621.5" y="403.5" width="12" height="12" fill="#fff" stroke="#828282"/><rect x="623.5" y="405.5" width="8" height="8" fill="url(#cbg)" stroke="#c4c8ce"/><text x="638" y="413.9" fill="#c89020" font-size="11.6" textLength="66.6" lengthAdjust="spacingAndGlyphs" stroke="#c89020" stroke-width="0.15">3: left sail off</text><text x="846" y="413.8" fill="#c89020" font-size="11">36.3 dB</text><text x="883.5" y="411.8" fill="#0000f0" font-size="11" font-weight="bold">new</text><rect x="17.5" y="426.5" width="12" height="12" fill="#fff" stroke="#828282"/><rect x="19.5" y="428.5" width="8" height="8" fill="url(#cbg)" stroke="#c4c8ce"/><text x="34" y="436.9" fill="#9a3cc0" font-size="11.6" textLength="92.5" lengthAdjust="spacingAndGlyphs" stroke="#9a3cc0" stroke-width="0.15">4: left sail cross 15</text><text x="242" y="436.8" fill="#9a3cc0" font-size="11">35.3 dB</text><text x="279.5" y="434.8" fill="#0000f0" font-size="11" font-weight="bold">new</text><rect x="319.5" y="426.5" width="12" height="12" fill="#fff" stroke="#828282"/><rect x="321.5" y="428.5" width="8" height="8" fill="url(#cbg)" stroke="#c4c8ce"/><text x="336" y="436.9" fill="#b82080" font-size="11.6" textLength="73.1" lengthAdjust="spacingAndGlyphs" stroke="#b82080" stroke-width="0.15">5: right sail on</text><text x="544" y="436.8" fill="#b82080" font-size="11">33.4 dB</text><text x="581.5" y="434.8" fill="#0000f0" font-size="11" font-weight="bold">new</text><rect x="621.5" y="426.5" width="12" height="12" fill="#fff" stroke="#828282"/><rect x="623.5" y="428.5" width="8" height="8" fill="url(#cbg)" stroke="#c4c8ce"/><text x="638" y="436.9" fill="#101010" font-size="11.6" textLength="126.1" lengthAdjust="spacingAndGlyphs" stroke="#101010" stroke-width="0.15">6: right sail behind head</text><text x="846" y="436.8" fill="#101010" font-size="11">32.7 dB</text><text x="883.5" y="434.8" fill="#0000f0" font-size="11" font-weight="bold">new</text><rect x="17.5" y="449.5" width="12" height="12" fill="#fff" stroke="#828282"/><rect x="19.5" y="451.5" width="8" height="8" fill="url(#cbg)" stroke="#c4c8ce"/><text x="34" y="459.9" fill="#9030d8" font-size="11.6" textLength="117" lengthAdjust="spacingAndGlyphs" stroke="#9030d8" stroke-width="0.15">7: right sail cross firing</text><text x="242" y="459.8" fill="#9030d8" font-size="11">32.7 dB</text><text x="279.5" y="457.8" fill="#0000f0" font-size="11" font-weight="bold">new</text><rect x="319.5" y="449.5" width="12" height="12" fill="#fff" stroke="#828282"/><rect x="321.5" y="451.5" width="8" height="8" fill="url(#cbg)" stroke="#c4c8ce"/><text x="336" y="459.9" fill="#3030f0" font-size="11.6" textLength="85" lengthAdjust="spacingAndGlyphs" stroke="#3030f0" stroke-width="0.15">8: Mar 4 20:44:45</text><text x="544" y="459.8" fill="#3030f0" font-size="11">25.5 dB</text><text x="581.5" y="457.8" fill="#0000f0" font-size="11" font-weight="bold">new</text><rect x="621.5" y="449.5" width="12" height="12" fill="#fff" stroke="#828282"/><rect x="623.5" y="451.5" width="8" height="8" fill="url(#cbg)" stroke="#c4c8ce"/><text x="638" y="459.9" fill="#3a8dc8" font-size="11.6" textLength="85.7" lengthAdjust="spacingAndGlyphs" stroke="#3a8dc8" stroke-width="0.15">9: Mar 4 20:45:05</text><text x="846" y="459.8" fill="#3a8dc8" font-size="11">27.5 dB</text><text x="883.5" y="457.8" fill="#0000f0" font-size="11" font-weight="bold">new</text><rect x="17.5" y="472.5" width="12" height="12" fill="#fff" stroke="#828282"/><rect x="19.5" y="474.5" width="8" height="8" fill="url(#cbg)" stroke="#c4c8ce"/><text x="34" y="482.9" fill="#c010c8" font-size="11.6" textLength="90.9" lengthAdjust="spacingAndGlyphs" stroke="#c010c8" stroke-width="0.15">10: Mar 4 20:47:51</text><text x="242" y="482.8" fill="#c010c8" font-size="11">29.4 dB</text><text x="279.5" y="480.8" fill="#0000f0" font-size="11" font-weight="bold">new</text><rect x="319.5" y="472.5" width="12" height="12" fill="#fff" stroke="#828282"/><rect x="321.5" y="474.5" width="8" height="8" fill="url(#cbg)" stroke="#c4c8ce"/><text x="336" y="482.9" fill="#108010" font-size="11.6" textLength="90.9" lengthAdjust="spacingAndGlyphs" stroke="#108010" stroke-width="0.15">11: Mar 4 20:49:00</text><text x="544" y="482.8" fill="#108010" font-size="11">29.4 dB</text><text x="581.5" y="480.8" fill="#0000f0" font-size="11" font-weight="bold">new</text><rect x="621.5" y="472.5" width="12" height="12" fill="#fff" stroke="#828282"/><rect x="623.5" y="474.5" width="8" height="8" fill="url(#cbg)" stroke="#c4c8ce"/><path d="M624.5,479 L627,482 L631.5,475" fill="none" stroke="#3c4e98" stroke-width="1.8" stroke-linecap="round" stroke-linejoin="round"/><text x="638" y="482.9" fill="#12b05e" font-size="11.6" textLength="115.9" lengthAdjust="spacingAndGlyphs" stroke="#12b05e" stroke-width="0.15">12: left corner upfiring</text><text x="846" y="482.8" fill="#12b05e" font-size="11">22.5 dB</text><text x="883.5" y="480.8" fill="#0000f0" font-size="11" font-weight="bold">new</text><g stroke="#12b05e" stroke-width="2" fill="none"><rect x="786" y="472" width="25" height="14.2" rx="3.5"/><line x1="781" y1="479" x2="785" y2="479"/><line x1="812" y1="479" x2="816" y2="479"/></g><g font-family="Liberation Serif" fill="#111"><text x="790.6" y="480.6" font-size="10.5" stroke="#111" stroke-width="0.2">1</text><text x="800.6" y="484" font-size="10.5" stroke="#111" stroke-width="0.2">6</text></g><line x1="793.8" y1="484.8" x2="800.8" y2="474" stroke="#111" stroke-width="0.9"/><rect x="17.5" y="495.5" width="12" height="12" fill="#fff" stroke="#828282"/><rect x="19.5" y="497.5" width="8" height="8" fill="url(#cbg)" stroke="#c4c8ce"/><text x="34" y="505.9" fill="#d01040" font-size="11.6" textLength="123.8" lengthAdjust="spacingAndGlyphs" stroke="#d01040" stroke-width="0.15">13: right corner upfiring</text><text x="242" y="505.8" fill="#d01040" font-size="11">30.6 dB</text><text x="279.5" y="503.8" fill="#0000f0" font-size="11" font-weight="bold">new</text><rect x="319.5" y="495.5" width="12" height="12" fill="#fff" stroke="#828282"/><rect x="321.5" y="497.5" width="8" height="8" fill="url(#cbg)" stroke="#c4c8ce"/><path d="M322.5,502 L325,505 L329.5,498" fill="none" stroke="#3c4e98" stroke-width="1.8" stroke-linecap="round" stroke-linejoin="round"/><text x="336" y="505.9" fill="#b38b0d" font-size="11.6" textLength="110" lengthAdjust="spacingAndGlyphs" stroke="#b38b0d" stroke-width="0.15">14: left corner on-axis</text><text x="544" y="505.8" fill="#b38b0d" font-size="11">17.5 dB</text><text x="581.5" y="503.8" fill="#0000f0" font-size="11" font-weight="bold">new</text><g stroke="#b38b0d" stroke-width="2" fill="none"><rect x="484" y="495" width="25" height="14.2" rx="3.5"/><line x1="479" y1="502" x2="483" y2="502"/><line x1="510" y1="502" x2="514" y2="502"/></g><g font-family="Liberation Serif" fill="#111"><text x="488.6" y="503.6" font-size="10.5" stroke="#111" stroke-width="0.2">1</text><text x="498.6" y="507" font-size="10.5" stroke="#111" stroke-width="0.2">6</text></g><line x1="491.8" y1="507.8" x2="498.8" y2="497" stroke="#111" stroke-width="0.9"/><rect x="621.5" y="495.5" width="12" height="12" fill="#fff" stroke="#828282"/><rect x="623.5" y="497.5" width="8" height="8" fill="url(#cbg)" stroke="#c4c8ce"/><text x="638" y="505.9" fill="#c01010" font-size="11.6" textLength="118.8" lengthAdjust="spacingAndGlyphs" stroke="#c01010" stroke-width="0.15">15: right corner on-axis</text><text x="846" y="505.8" fill="#c01010" font-size="11">19.4 dB</text><text x="883.5" y="503.8" fill="#0000f0" font-size="11" font-weight="bold">new</text></g>
</svg>
</body></html>
